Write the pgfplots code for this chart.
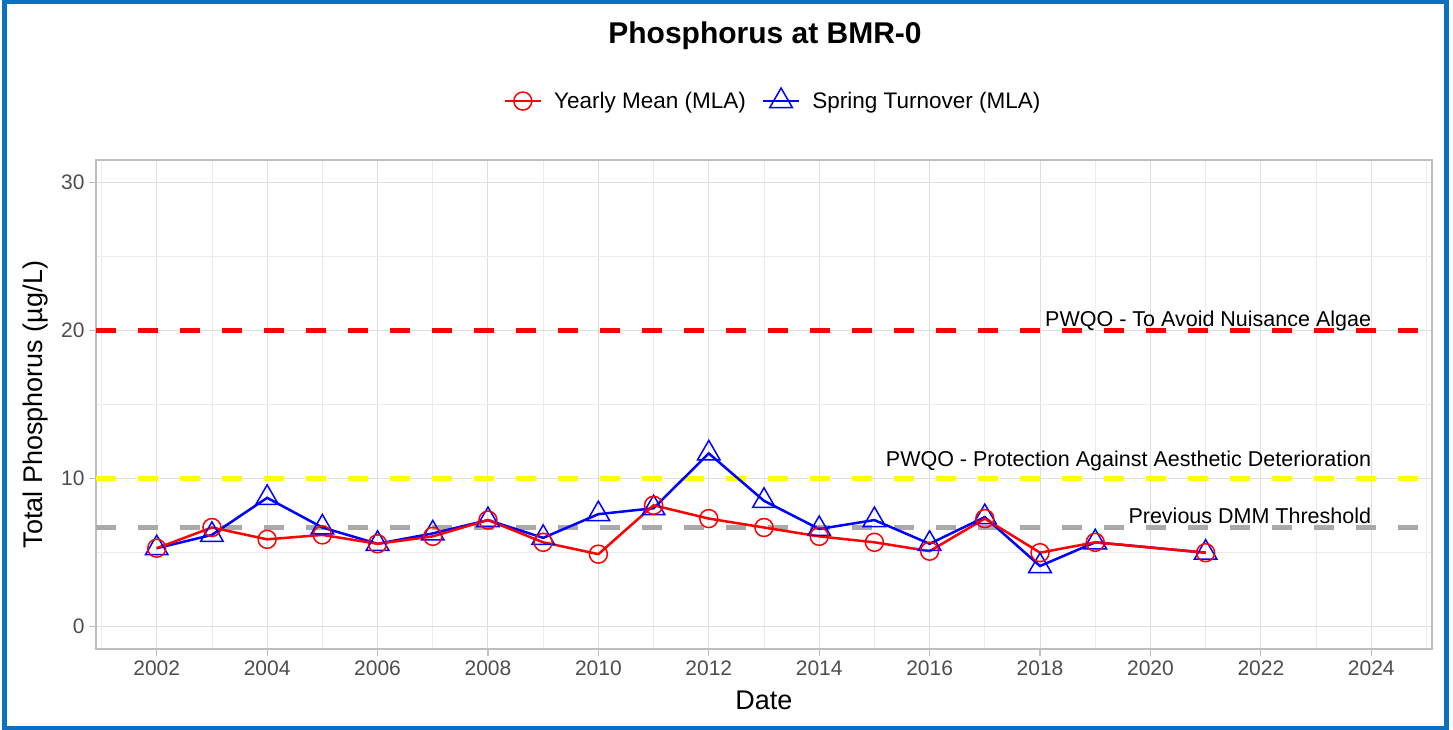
\documentclass[border=0pt]{standalone}
\usepackage{fontspec}
\setmainfont{Liberation Sans}
\usepackage{pgfplots}
\pgfplotsset{compat=1.18}
\definecolor{frameblue}{RGB}{11,111,194}
\definecolor{gridmaj}{RGB}{222,222,222}
\definecolor{gridmin}{RGB}{235,235,235}
\definecolor{panelborder}{RGB}{190,190,190}
\definecolor{ticklab}{RGB}{77,77,77}
\definecolor{thrgrey}{RGB}{169,169,169}
\definecolor{pyellow}{RGB}{255,255,0}
\begin{document}
\begin{tikzpicture}[x=1pt,y=1pt]
\useasboundingbox (0,0) rectangle (1453,730);
\begin{axis}[
  at={(96pt,81pt)}, anchor=south west,
  width=1336pt, height=489pt, scale only axis,
  xmin=2000.9, xmax=2025.1, ymin=-1.5, ymax=31.5,
  xtick={2002,2004,...,2024},
  minor xtick={2001,2003,...,2025},
  ytick={0,10,20,30},
  minor ytick={5,15,25},
  grid=both,
  major grid style={gridmaj, line width=1pt},
  minor grid style={gridmin, line width=0.7pt},
  axis line style={panelborder, line width=1.3pt},
  tick align=outside,
  major tick length=7pt,
  minor tick length=0pt,
  every tick/.style={panelborder, line width=1.2pt},
  xtick pos=bottom, ytick pos=left,
  /pgf/number format/1000 sep={},
  /pgf/number format/assume math mode=true,
  tick label style={font=\fontsize{21}{25}\selectfont, text=ticklab},
  xticklabel style={yshift=-1pt},
  yticklabel style={xshift=-1pt},
  xlabel={Date},
  ylabel={Total Phosphorus (µg/L)},
  label style={font=\fontsize{27}{32}\selectfont},
  xlabel style={yshift=-9pt},
  ylabel style={yshift=6pt},
  legend style={draw=none, fill=none, at={(0.5067,1.1227)}, anchor=center,
    legend columns=2, font=\fontsize{22.5}{26}\selectfont,
    /tikz/every odd column/.append style={column sep=10pt},
    /tikz/every even column/.append style={column sep=14pt},
    cells={anchor=west}},
  legend image code/.code={\draw[mark repeat=2,mark phase=2] plot coordinates {(0pt,0pt)(18pt,0pt)(36pt,0pt)};},
  clip=true,
]
\addlegendimage{red, line width=2.5pt, mark=o, mark size=9pt, mark options={line width=1.5pt, fill=none}}
\addlegendentry{Yearly Mean (MLA)}
\addlegendimage{blue, line width=2.5pt, mark=triangle, mark size=13pt, mark options={line width=1.5pt, fill=none}}
\addlegendentry{Spring Turnover (MLA)}
% thresholds
\addplot[red, line width=5pt, dash pattern=on 20pt off 22pt, forget plot] coordinates {(2000.9,20) (2025.1,20)};
\addplot[pyellow, line width=5pt, dash pattern=on 20pt off 22pt, forget plot] coordinates {(2000.9,10) (2025.1,10)};
\addplot[thrgrey, line width=5pt, dash pattern=on 20pt off 22pt, forget plot] coordinates {(2000.9,6.7) (2025.1,6.7)};
% Spring Turnover
\addplot[blue, line width=2.5pt, mark=triangle, mark size=13pt, mark options={line width=1.5pt, fill=none}, forget plot] coordinates {
(2002,5.3) (2003,6.2) (2004,8.7) (2005,6.7) (2006,5.6) (2007,6.3) (2008,7.2) (2009,6.0) (2010,7.6) (2011,8.0) (2012,11.7) (2013,8.5) (2014,6.6) (2015,7.2) (2016,5.6) (2017,7.4) (2018,4.1) (2019,5.7) (2021,5.0)
};
% Yearly Mean
\addplot[red, line width=2.5pt, mark=o, mark size=9pt, mark options={line width=1.5pt, fill=none}, forget plot] coordinates {
(2002,5.3) (2003,6.7) (2004,5.9) (2005,6.2) (2006,5.6) (2007,6.1) (2008,7.2) (2009,5.7) (2010,4.9) (2011,8.2) (2012,7.3) (2013,6.7) (2014,6.1) (2015,5.7) (2016,5.1) (2017,7.3) (2018,5.0) (2019,5.7) (2021,5.0)
};
\node[anchor=base east, font=\fontsize{21.5}{25}\selectfont, inner sep=0pt] at (axis cs:2024,20) [yshift=4pt] {PWQO - To Avoid Nuisance Algae};
\node[anchor=base east, font=\fontsize{21.5}{25}\selectfont, inner sep=0pt] at (axis cs:2024,10) [yshift=12pt] {PWQO - Protection Against Aesthetic Deterioration};
\node[anchor=base east, font=\fontsize{21.5}{25}\selectfont, inner sep=0pt] at (axis cs:2024,6.7) [yshift=4pt] {Previous DMM Threshold};
\end{axis}
\node[font=\fontsize{30}{36}\selectfont\bfseries] at (765,694) {Phosphorus at BMR-0};
\draw[frameblue, line width=5pt] (4.5,1.5) rectangle (1446.5,728);
\end{tikzpicture}
\end{document}
